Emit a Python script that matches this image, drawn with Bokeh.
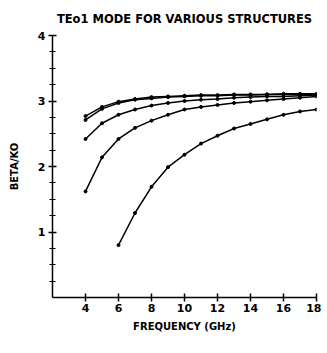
from bokeh.plotting import figure
from bokeh.models import FixedTicker, Range1d
from bokeh.embed import file_html
from bokeh.resources import INLINE

freq = [4, 5, 6, 7, 8, 9, 10, 11, 12, 13, 14, 15, 16, 17, 18]
curve_a = [2.77, 2.91, 2.99, 3.03, 3.06, 3.07, 3.08, 3.09, 3.09, 3.10, 3.10, 3.10, 3.11, 3.11, 3.11]
curve_b = [2.71, 2.88, 2.97, 3.02, 3.04, 3.06, 3.07, 3.08, 3.08, 3.09, 3.09, 3.10, 3.10, 3.10, 3.10]
curve_c = [2.42, 2.66, 2.79, 2.87, 2.93, 2.97, 3.00, 3.02, 3.03, 3.05, 3.06, 3.07, 3.07, 3.08, 3.09]
curve_d = [1.62, 2.14, 2.42, 2.59, 2.70, 2.79, 2.87, 2.91, 2.94, 2.97, 2.99, 3.01, 3.03, 3.05, 3.07]
freq_e = [6, 7, 8, 9, 10, 11, 12, 13, 14, 15, 16, 17, 18]
curve_e = [0.80, 1.29, 1.69, 1.99, 2.18, 2.35, 2.47, 2.58, 2.65, 2.72, 2.79, 2.84, 2.87]

x_ticks = [4, 6, 8, 10, 12, 14, 16, 18]
y_ticks = [1, 2, 3, 4]
y_minor = [0.25, 0.5, 0.75, 1.25, 1.5, 1.75, 2.25, 2.5, 2.75, 3.25, 3.5, 3.75]

FONT = "DejaVu Sans"

p = figure(frame_width=264, frame_height=262, output_backend="svg", toolbar_location=None,
           x_range=Range1d(2, 18), y_range=Range1d(0, 4),
           title="TEo1 MODE FOR VARIOUS STRUCTURES",
           min_border_left=52, min_border_right=5, min_border_top=34, min_border_bottom=8)

p.outline_line_color = None
p.xgrid.visible = False
p.ygrid.visible = False
p.background_fill_color = "white"
p.border_fill_color = "white"

p.title.text_font = FONT
p.title.text_font_size = "11.5px"
p.title.text_font_style = "bold"
p.title.align = "center"
p.title.text_color = "black"
p.title.standoff = 19

for ys, xs in [(curve_a, freq), (curve_b, freq), (curve_c, freq), (curve_d, freq), (curve_e, freq_e)]:
    p.line(xs, ys, line_color="black", line_width=1.5)
    p.scatter(xs, ys, size=3, color="black")

xa = p.xaxis[0]
xa.ticker = FixedTicker(ticks=x_ticks, minor_ticks=[])
xa.axis_label = "FREQUENCY (GHz)"
ya = p.yaxis[0]
ya.ticker = FixedTicker(ticks=y_ticks, minor_ticks=y_minor)
ya.axis_label = "BETA/KO"

for ax in (xa, ya):
    ax.axis_line_color = "black"
    ax.axis_line_width = 1.5
    ax.major_tick_line_color = "black"
    ax.major_tick_line_width = 1.5
    ax.major_tick_in = 4
    ax.major_tick_out = 4
    ax.minor_tick_line_color = "black"
    ax.minor_tick_line_width = 1.2
    ax.minor_tick_in = 3
    ax.minor_tick_out = 3
    ax.major_label_text_font = FONT
    ax.major_label_text_font_size = "11px"
    ax.major_label_text_font_style = "bold"
    ax.major_label_text_color = "black"
    ax.axis_label_text_font = FONT
    ax.axis_label_text_font_size = "10px"
    ax.axis_label_text_font_style = "bold"
    ax.axis_label_text_color = "black"

ya.major_label_standoff = 3
ya.major_label_orientation = "horizontal"
xa.major_label_standoff = 2
xa.axis_label_standoff = 6
ya.axis_label_standoff = 15

open("out.html", "w").write(file_html(p, INLINE))
